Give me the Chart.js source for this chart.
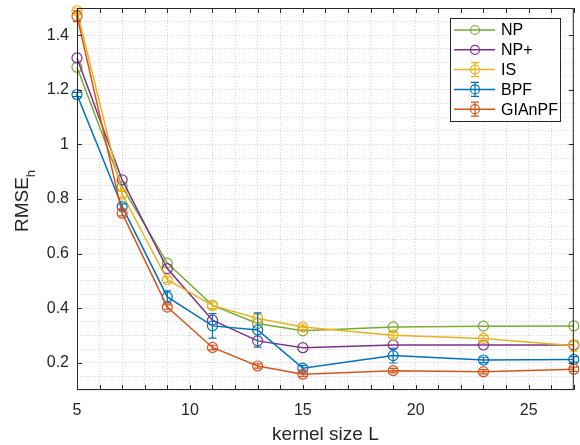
<!DOCTYPE html>
<html>
<head>
<meta charset="utf-8">
<script src="https://cdn.jsdelivr.net/npm/chart.js@4.4.0/dist/chart.umd.min.js"></script>
<style>
  html, body { margin: 0; padding: 0; background: #fff; }
  #wrap { width: 580px; height: 445px; }
</style>
</head>
<body>
<div id="wrap"><canvas id="rmseChart"></canvas></div>
<script>
// data
const kernelSizes = [5, 7, 9, 11, 13, 15, 19, 23, 27];
const npValues     = [1.283, 0.845, 0.565, 0.410, 0.344, 0.317, 0.331, 0.334, 0.335];
const npPlusValues = [1.317, 0.870, 0.545, 0.356, 0.280, 0.255, 0.265, 0.265, 0.265];
const isValues     = [1.490, 0.818, 0.504, 0.410, 0.362, 0.331, 0.301, 0.289, 0.262];
const bpfValues    = [1.183, 0.772, 0.441, 0.335, 0.320, 0.180, 0.226, 0.210, 0.212];
const gianpfValues = [1.470, 0.748, 0.404, 0.256, 0.188, 0.158, 0.171, 0.167, 0.176];
// error bar half-lengths
const isErrors     = [0.010, 0.012, 0.010, 0.012, 0.015, 0.010, 0.010, 0.010, 0.020];
const bpfErrors    = [0.008, 0.010, 0.022, 0.045, 0.063, 0.010, 0.027, 0.010, 0.010];
const gianpfErrors = [0.020, 0.010, 0.008, 0.008, 0.008, 0.008, 0.008, 0.008, 0.008];

const FONT = '"Liberation Sans", Arial, Helvetica, sans-serif';
const AXIS_COLOR = '#262626';
const GRID_COLOR = 'rgba(38, 38, 38, 0.2)';

function points(values) {
    return kernelSizes.map((k, i) => ({ x: k, y: values[i] }));
}

function makeDataset(label, values, color, order, errors) {
    return {
        label: label,
        data: points(values),
        errors: errors || null,
        borderColor: color,
        backgroundColor: color,
        borderWidth: 1.5,
        pointRadius: 5,
        pointHoverRadius: 5,
        pointBorderWidth: 1.2,
        pointBorderColor: color,
        pointBackgroundColor: 'rgba(0,0,0,0)',
        tension: 0,
        clip: false,
        order: order
    };
}

// error bars drawn right after their own line
const errorBarPlugin = {
    id: 'errorBars',
    afterDatasetDraw(chart, args) {
        const ds = chart.data.datasets[args.index];
        if (!ds.errors) return;
        const { ctx, scales: { x, y } } = chart;
        ctx.save();
        ctx.strokeStyle = ds.borderColor;
        ctx.lineWidth = 1.2;
        ds.data.forEach((pt, i) => {
            const px = x.getPixelForValue(pt.x);
            const top = y.getPixelForValue(pt.y + ds.errors[i]);
            const bot = y.getPixelForValue(pt.y - ds.errors[i]);
            ctx.beginPath();
            ctx.moveTo(px, top); ctx.lineTo(px, bot);
            ctx.moveTo(px - 4, top); ctx.lineTo(px + 4, top);
            ctx.moveTo(px - 4, bot); ctx.lineTo(px + 4, bot);
            ctx.stroke();
        });
        ctx.restore();
    }
};

// box, inner tick marks, axis titles and legend (matlab look)
const framePlugin = {
    id: 'frame',
    afterDraw(chart) {
        const { ctx, chartArea: a, scales: { x, y } } = chart;
        ctx.save();
        ctx.strokeStyle = AXIS_COLOR;
        ctx.lineWidth = 1;
        ctx.strokeRect(a.left + 0.5, a.top + 0.5, a.right - a.left - 1, a.bottom - a.top - 1);

        ctx.beginPath();
        x.ticks.forEach(t => {
            const px = Math.round(x.getPixelForValue(t.value)) + 0.5;
            ctx.moveTo(px, a.bottom); ctx.lineTo(px, a.bottom - 5);
            ctx.moveTo(px, a.top); ctx.lineTo(px, a.top + 5);
        });
        y.ticks.forEach(t => {
            const r = Math.round(t.value * 100);
            if (r % 20 !== 0) return;
            const py = Math.round(y.getPixelForValue(t.value)) + 0.5;
            ctx.moveTo(a.left, py); ctx.lineTo(a.left + 5, py);
            ctx.moveTo(a.right, py); ctx.lineTo(a.right - 5, py);
        });
        ctx.stroke();

        // x title
        ctx.fillStyle = AXIS_COLOR;
        ctx.font = '19px ' + FONT;
        ctx.textAlign = 'center';
        ctx.textBaseline = 'alphabetic';
        ctx.fillText('kernel size L', (a.left + a.right) / 2, 440);

        // y title with subscript
        const mainFont = '19px ' + FONT, subFont = '13px ' + FONT;
        ctx.font = mainFont;
        const w1 = ctx.measureText('RMSE').width;
        ctx.font = subFont;
        const w2 = ctx.measureText('h').width;
        ctx.translate(28, (a.top + a.bottom) / 2 + 2);
        ctx.rotate(-Math.PI / 2);
        ctx.textAlign = 'left';
        ctx.font = mainFont;
        ctx.fillText('RMSE', -(w1 + w2) / 2, 0);
        ctx.font = subFont;
        ctx.fillText('h', -(w1 + w2) / 2 + w1, 7);
        ctx.setTransform(1, 0, 0, 1, 0, 0);
        ctx.scale(chart.currentDevicePixelRatio, chart.currentDevicePixelRatio);

        // legend
        const lx = 450.5, ly = 18.5, lw = 110, lh = 103;
        ctx.fillStyle = '#fff';
        ctx.fillRect(lx, ly, lw, lh);
        ctx.strokeStyle = AXIS_COLOR;
        ctx.lineWidth = 1;
        ctx.strokeRect(lx, ly, lw, lh);
        ctx.font = '16px ' + FONT;
        ctx.textBaseline = 'middle';
        ctx.textAlign = 'left';
        chart.data.datasets.forEach((ds, i) => {
            const ry = 30 + i * 19.8;
            ctx.strokeStyle = ds.borderColor;
            ctx.lineWidth = 1.5;
            ctx.beginPath();
            ctx.moveTo(454, ry); ctx.lineTo(495, ry);
            ctx.stroke();
            ctx.lineWidth = 1.2;
            ctx.beginPath();
            ctx.arc(475, ry, 4.5, 0, Math.PI * 2);
            ctx.stroke();
            if (ds.errors) {
                ctx.beginPath();
                ctx.moveTo(475, ry - 7); ctx.lineTo(475, ry + 7);
                ctx.moveTo(471, ry - 7); ctx.lineTo(479, ry - 7);
                ctx.moveTo(471, ry + 7); ctx.lineTo(479, ry + 7);
                ctx.stroke();
            }
            ctx.fillStyle = '#000';
            ctx.fillText(ds.label, 501, ry + 1);
        });
        ctx.restore();
    }
};

const ctx = document.getElementById('rmseChart').getContext('2d');
const rmseChart = new Chart(ctx, {
    type: 'line',
    data: {
        datasets: [
            makeDataset('NP', npValues, '#77AC30', 5),
            makeDataset('NP+', npPlusValues, '#7E2F8E', 4),
            makeDataset('IS', isValues, '#EDB120', 3, isErrors),
            makeDataset('BPF', bpfValues, '#0072BD', 2, bpfErrors),
            makeDataset('GIAnPF', gianpfValues, '#D95319', 1, gianpfErrors)
        ]
    },
    options: {
        responsive: true,
        maintainAspectRatio: false,
        animation: false,
        layout: { padding: { left: 0, right: 4, top: 8, bottom: 0 } },
        scales: {
            x: {
                type: 'linear',
                min: 5,
                max: 27,
                afterFit: s => { s.height = 55; s.paddingLeft = 0; s.paddingRight = 0; },
                ticks: {
                    stepSize: 1,
                    autoSkip: false,
                    maxRotation: 0,
                    padding: 11,
                    color: AXIS_COLOR,
                    font: { family: FONT, size: 16 },
                    callback: v => (v % 5 === 0 ? String(v) : '')
                },
                grid: { color: GRID_COLOR, drawTicks: false, lineWidth: 1 },
                border: { display: false, dash: [1, 2] }
            },
            y: {
                min: 0.1,
                max: 1.5,
                afterFit: s => { s.width = 77; s.paddingTop = 0; s.paddingBottom = 0; },
                ticks: {
                    stepSize: 0.05,
                    autoSkip: false,
                    padding: 8,
                    color: AXIS_COLOR,
                    font: { family: FONT, size: 16 },
                    callback: v => {
                        const r = Math.round(v * 100);
                        return r % 20 === 0 ? String(r / 100) : '';
                    }
                },
                grid: { color: GRID_COLOR, drawTicks: false, lineWidth: 1 },
                border: { display: false, dash: [1, 2] }
            }
        },
        plugins: {
            legend: { display: false },
            tooltip: { enabled: false }
        }
    },
    plugins: [errorBarPlugin, framePlugin]
});
</script>
</body>
</html>
